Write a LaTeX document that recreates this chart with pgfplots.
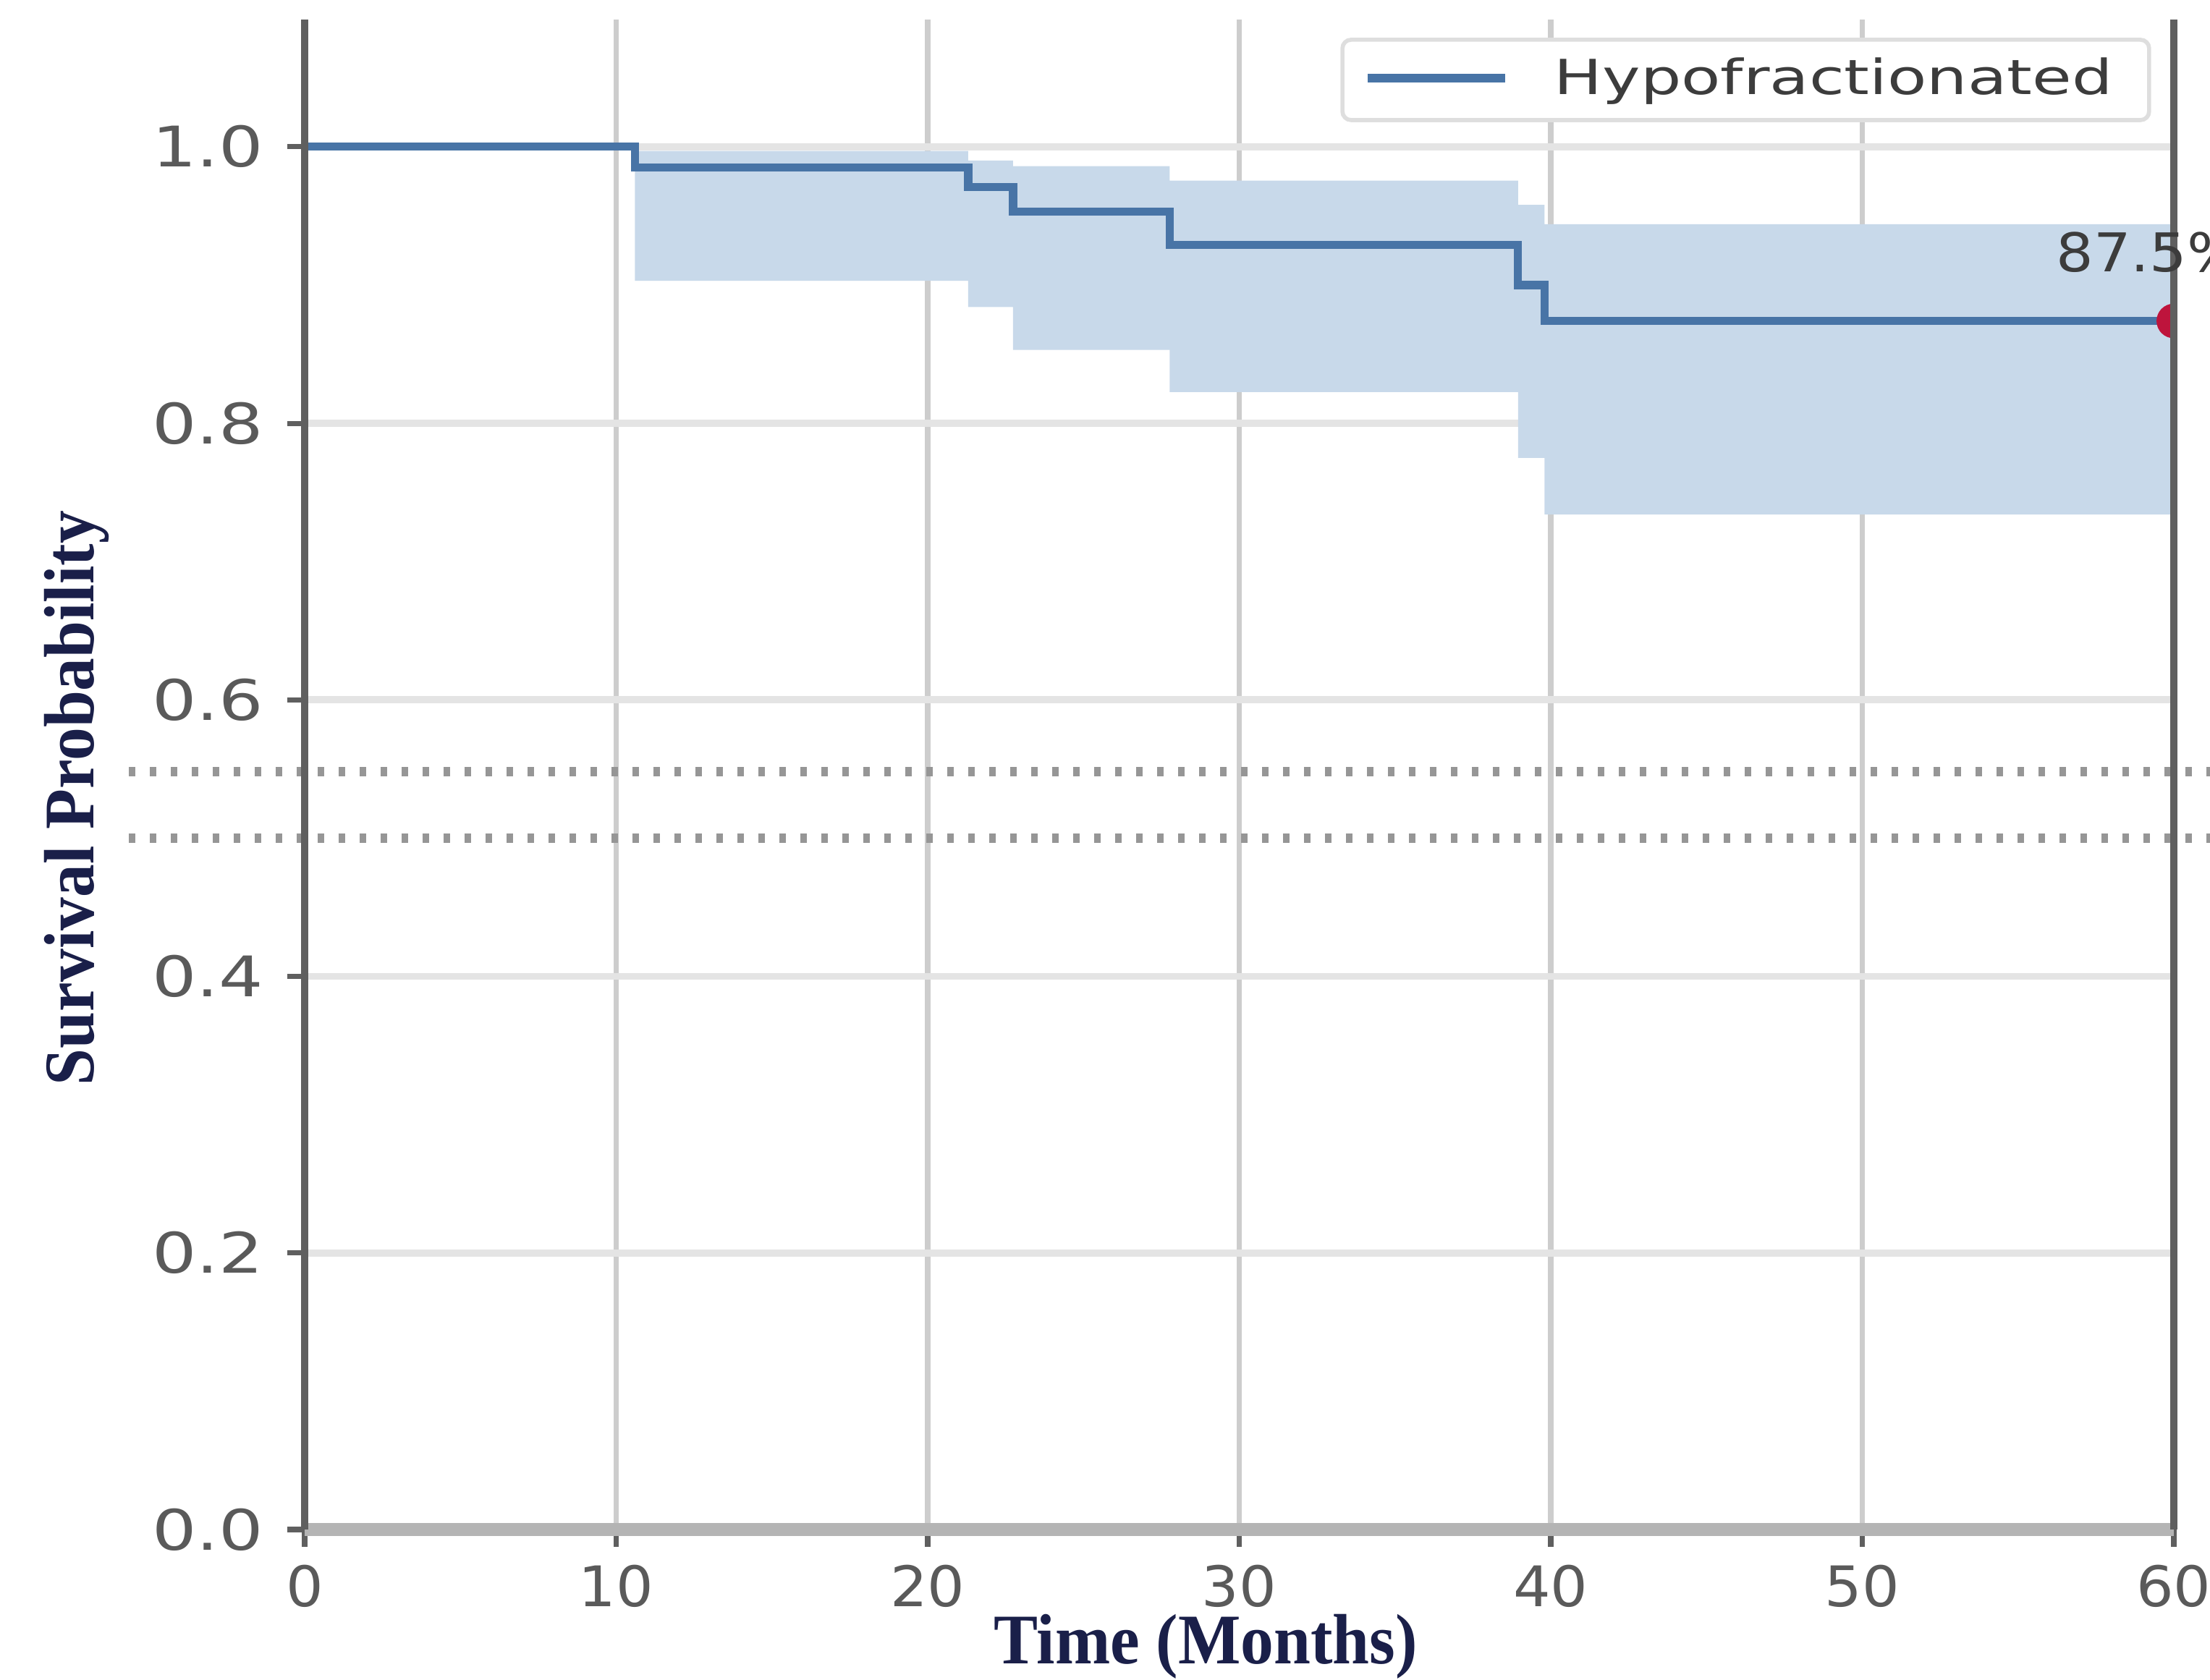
\documentclass[border=0pt]{standalone}
\usepackage{fontspec}
\setmainfont{DejaVu Sans}
\newfontfamily\serifb{Liberation Serif}
\usepackage{pgfplots}
\pgfplotsset{compat=1.18}
\definecolor{navy}{RGB}{26,31,73}
\definecolor{kmline}{RGB}{72,116,166}
\definecolor{kmband}{RGB}{200,217,234}
\definecolor{gridv}{RGB}{205,205,205}
\definecolor{gridh}{RGB}{228,228,228}
\definecolor{spine}{RGB}{95,95,95}
\definecolor{botspine}{RGB}{180,180,180}
\definecolor{ticktext}{RGB}{90,90,90}
\definecolor{dotc}{RGB}{150,150,150}
\definecolor{redmark}{RGB}{190,20,60}
\definecolor{legbord}{RGB}{222,222,222}
\definecolor{legtext}{RGB}{60,60,60}

\pgfplotstableread{
t s
0 1.0
10.6 0.985
21.3 0.971
22.74 0.953
27.77 0.929
38.95 0.900
39.8 0.874
60 0.874
}\kmcurve

\pgfplotstableread{
t ci
10.6 0.997
21.3 0.997
21.3 0.990
22.74 0.990
22.74 0.986
27.77 0.986
27.77 0.9755
38.95 0.9755
38.95 0.958
39.8 0.958
39.8 0.944
60 0.944
60 0.734
39.8 0.734
39.8 0.775
38.95 0.775
38.95 0.8226
27.77 0.8226
27.77 0.853
22.74 0.853
22.74 0.884
21.3 0.884
21.3 0.903
10.6 0.903
}\kmband

\begin{document}
\begin{tikzpicture}
\begin{axis}[
  scale only axis, width=12.915cm, height=10.435cm,
  xmin=0, xmax=60, ymin=0, ymax=1.092,
  clip mode=individual, clip marker paths=true,
  axis line style={draw=none},
  xtick={0,10,20,30,40,50,60}, xticklabels={0,10,20,30,40,50,60},
  ytick={0,0.2,0.4,0.6,0.8,1.0}, yticklabels={0.0,0.2,0.4,0.6,0.8,1.0},
  xtick pos=bottom, ytick pos=left,
  tick align=outside, major tick length=0.12cm,
  tick style={draw=spine, line width=1pt},
  ticklabel style={font=\fontsize{11}{13}\selectfont, text=ticktext, inner sep=0pt},
  xticklabel style={xscale=1.05, yshift=-0.12cm},
  yticklabel style={xscale=1.25, xshift=-0.125cm},
  grid=major,
  x grid style={gridv, line width=1.1pt},
  y grid style={gridh, line width=1.4pt},
  xlabel={Time (Months)}, ylabel={Survival Probability},
  xlabel style={font=\serifb\bfseries\fontsize{14}{16}\selectfont, text=navy, at={(axis description cs:0.482,-0.0891)}, anchor=base, xscale=0.93},
  ylabel style={font=\serifb\bfseries\fontsize{14}{16}\selectfont, text=navy, at={(axis description cs:-0.1127,0.4844)}, anchor=base, xscale=0.93},
]
\addplot[fill=kmband, draw=none] table[x=t, y=ci] {\kmband};
\addplot[const plot, kmline, line width=1.6pt] table[x=t, y=s] {\kmcurve};
\addplot[only marks, mark=*, mark size=3.2pt, color=redmark] coordinates {(60,0.874)};

\draw[dotc, line width=1.8pt, dash pattern=on 0.045cm off 0.1cm] (axis cs:-5.65,0.548) -- (axis cs:61.6,0.548);
\draw[dotc, line width=1.8pt, dash pattern=on 0.045cm off 0.1cm] (axis cs:-5.65,0.5) -- (axis cs:61.6,0.5);

\draw[botspine, line width=2.5pt] (rel axis cs:0,0) -- (rel axis cs:1,0);
\draw[spine, line width=1.4pt] (rel axis cs:0,0) -- (rel axis cs:0,1);
\draw[spine, line width=1.4pt] (rel axis cs:1,0) -- (rel axis cs:1,1);

\draw[draw=legbord, fill=white, rounded corners=0.06cm, line width=0.8pt] (rel axis cs:0.5552,0.9334) rectangle (rel axis cs:0.9868,0.9866);
\draw[kmline, line width=1.6pt] (rel axis cs:0.5687,0.9612) -- (rel axis cs:0.6423,0.9612);
\node[anchor=base west, inner sep=0pt, font=\fontsize{9.5}{11}\selectfont, xscale=1.33, text=legtext] at (rel axis cs:0.6678,0.9506) {Hypofractionated};

\node[anchor=base west, inner sep=0pt, font=\fontsize{10.5}{12}\selectfont, xscale=1.1, text=legtext] at (rel axis cs:0.9365,0.8328) {87.5\%};
\end{axis}
\pgfresetboundingbox
\path[use as bounding box] (-2.105,-1.04) rectangle (13.165,10.57);
\end{tikzpicture}
\end{document}
